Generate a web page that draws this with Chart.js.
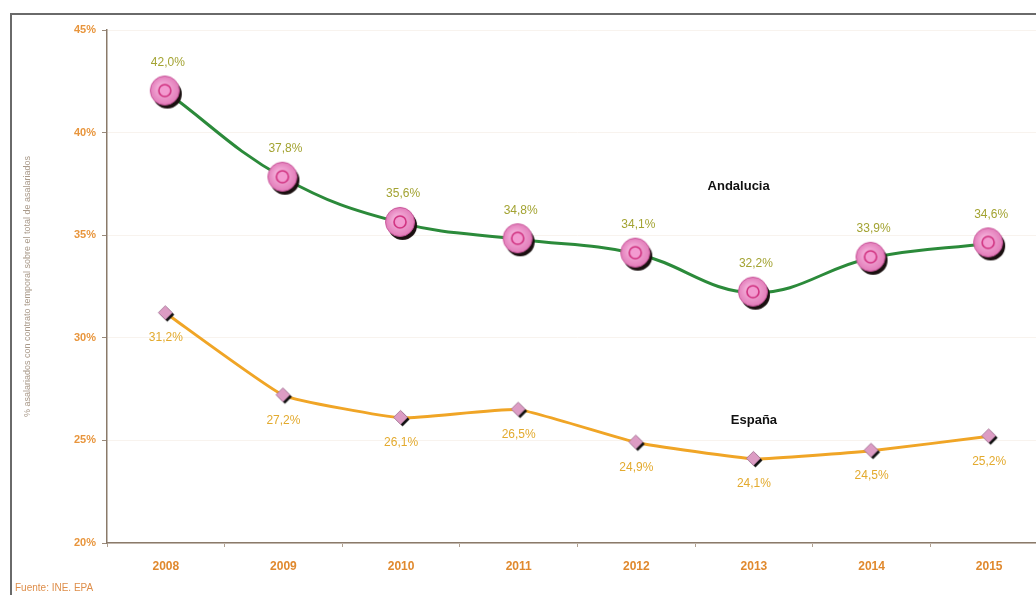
<!DOCTYPE html>
<html>
<head>
<meta charset="utf-8">
<script src="https://cdn.jsdelivr.net/npm/chart.js@4/dist/chart.umd.min.js"></script>
<style>
html,body{margin:0;padding:0;background:#fff;overflow:hidden;width:1036px;height:595px;}
#wrap{position:absolute;left:0;top:0;width:1066px;height:595px;}
</style>
</head>
<body>
<div id="wrap"><canvas id="c" width="1066" height="595"></canvas></div>
<script>
const years = ['2008','2009','2010','2011','2012','2013','2014','2015'];
const andalucia = [42.0, 37.8, 35.6, 34.8, 34.1, 32.2, 33.9, 34.6];
const espana = [31.2, 27.2, 26.1, 26.5, 24.9, 24.1, 24.5, 25.2];
const yTicks = [20, 25, 30, 35, 40, 45];
const seriesNames = ['Andalucia', 'España'];
const yTitle = '% asalariados con contrato temporal sobre el total de asalariados';
const source = 'Fuente: INE. EPA';

function makeCircle(){
  const c = document.createElement('canvas'); c.width = 40; c.height = 40;
  const g = c.getContext('2d');
  g.fillStyle = '#1a1010';
  g.beginPath(); g.arc(21.5, 22.5, 14.5, 0, Math.PI*2); g.fill();
  const grd = g.createRadialGradient(16,16,2,19,19,15);
  grd.addColorStop(0,'#f6b6de'); grd.addColorStop(1,'#e27ab8');
  g.fillStyle = grd; g.strokeStyle = '#c8559a'; g.lineWidth = 1;
  g.beginPath(); g.arc(19, 19, 14.5, 0, Math.PI*2); g.fill(); g.stroke();
  g.fillStyle = '#f39ad0'; g.strokeStyle = '#d0307f'; g.lineWidth = 1.6;
  g.beginPath(); g.arc(19, 19, 6, 0, Math.PI*2); g.fill(); g.stroke();
  return c;
}
function makeDiamond(){
  const c = document.createElement('canvas'); c.width = 20; c.height = 20;
  const g = c.getContext('2d');
  const d = (cx,cy,r)=>{g.beginPath();g.moveTo(cx,cy-r);g.lineTo(cx+r,cy);g.lineTo(cx,cy+r);g.lineTo(cx-r,cy);g.closePath();};
  g.fillStyle = '#111'; d(11.5,11.5,7); g.fill();
  g.fillStyle = '#dc9cc4'; g.strokeStyle = '#a07090'; g.lineWidth = 0.8; d(9.5,9.5,7); g.fill(); g.stroke();
  return c;
}
const circleImg = makeCircle();
const diamondImg = makeDiamond();

const fmt = v => v.toFixed(1).replace('.', ',') + '%';

const extras = {
  id: 'extras',
  beforeDraw(chart){
    const g = chart.ctx;
    g.save();
    g.strokeStyle = '#6a6a6a'; g.lineWidth = 2;
    g.beginPath(); g.moveTo(11, 600); g.lineTo(11, 14); g.lineTo(1066, 14); g.stroke();
    g.restore();
  },
  afterDatasetsDraw(chart){
    const g = chart.ctx;
    g.save();
    g.font = '12px "Liberation Sans", Arial, sans-serif';
    g.textAlign = 'center'; g.textBaseline = 'middle';
    const m0 = chart.getDatasetMeta(0), m1 = chart.getDatasetMeta(1);
    m0.data.forEach((p,i)=>{ g.fillStyle = '#a3a332'; g.fillText(fmt(andalucia[i]), p.x+2, p.y-29); });
    m1.data.forEach((p,i)=>{ g.fillStyle = '#e3aa2e'; g.fillText(fmt(espana[i]), p.x, p.y+25); });
    const xs = chart.scales.x, ys = chart.scales.y;
    g.fillStyle = '#111';
    g.font = 'bold 13px "Liberation Sans", Arial, sans-serif';
    g.fillText(seriesNames[0], xs.getPixelForValue(4.87), ys.getPixelForValue(37.4));
    g.fillText(seriesNames[1], xs.getPixelForValue(5.0), ys.getPixelForValue(25.95));
    g.font = '10px "Liberation Sans", Arial, sans-serif';
    g.textAlign = 'left'; g.fillStyle = '#de8e4a';
    g.fillText(source, 15, 588);
    g.restore();
  }
};

new Chart(document.getElementById('c'), {
  type: 'line',
  data: {
    labels: years,
    datasets: [
      { label: seriesNames[0], data: andalucia, borderColor: '#2b8a3a', borderWidth: 3,
        tension: 0.4, pointStyle: circleImg, pointRadius: 15, pointHoverRadius: 15 },
      { label: seriesNames[1], data: espana, borderColor: '#f0a526', borderWidth: 3,
        tension: 0.12, pointStyle: diamondImg, pointRadius: 7, pointHoverRadius: 7 }
    ]
  },
  options: {
    responsive: false, animation: false,
    layout: { padding: { left: 0, top: 30, right: 11, bottom: 0 } },
    plugins: { legend: { display: false }, tooltip: { enabled: false } },
    scales: {
      x: {
        offset: true,
        afterFit: s => { s.height = 52; },
        grid: { drawOnChartArea: false, tickLength: 4, tickColor: '#b0a090', offset: true },
        border: { color: '#8a7a6a', width: 1.5 },
        ticks: { color: '#e0892e', padding: 12, font: { family: '"Liberation Sans", Arial, sans-serif', size: 12, weight: 'bold' } }
      },
      y: {
        min: 20, max: 45,
        afterFit: s => { s.width = 107; },
        afterBuildTicks: s => { s.ticks = yTicks.map(v => ({ value: v })); },
        grid: { color: '#f8f3ee', tickLength: 5, tickColor: '#9a8a7a' },
        border: { color: '#8a7a6a', width: 1.5 },
        ticks: { color: '#e8953c', padding: 6, callback: v => v + '%',
                 font: { family: '"Liberation Sans", Arial, sans-serif', size: 11, weight: 'bold' } },
        title: { display: true, text: yTitle, color: '#a89888', padding: { top: 22, bottom: 0 },
                 font: { family: '"Liberation Sans", Arial, sans-serif', size: 9 } }
      }
    }
  },
  plugins: [extras]
});
</script>
</body>
</html>
